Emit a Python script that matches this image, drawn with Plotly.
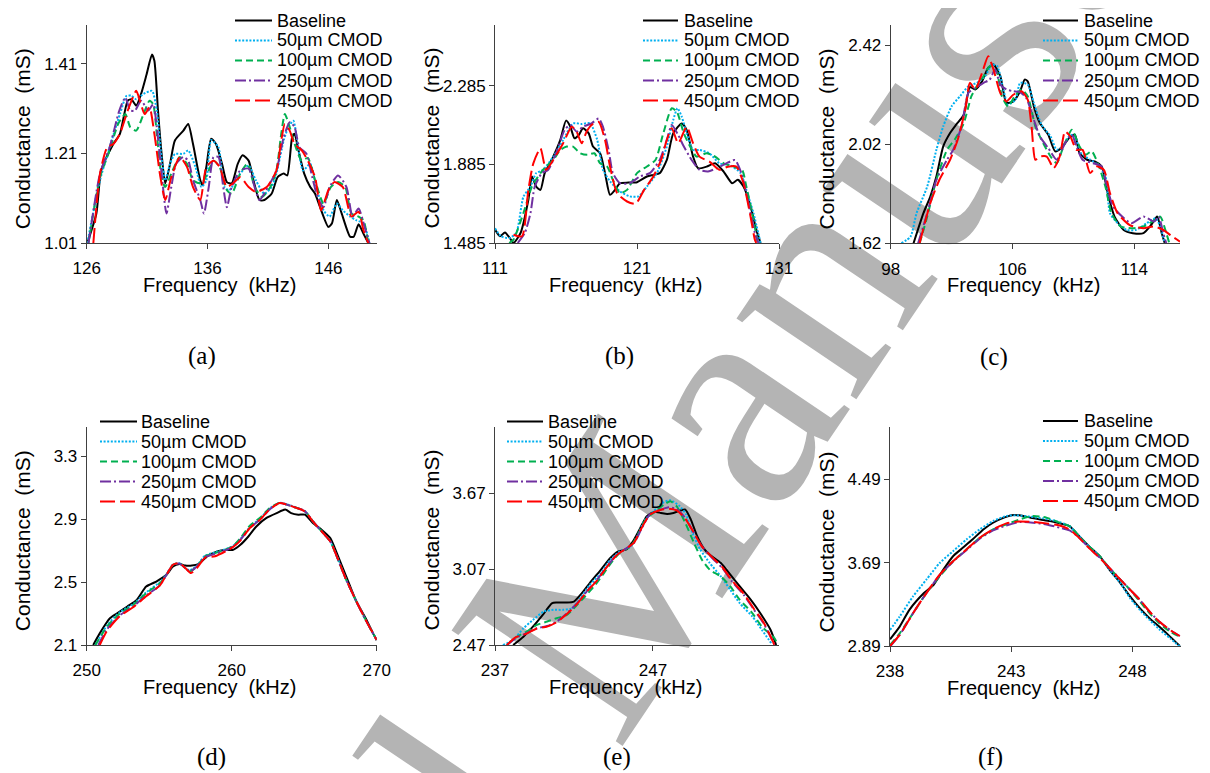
import plotly.graph_objects as go

# page body has an 8px margin: build the figure for the visible 1202x765 area
OFF = 8
W, H = 1210 - OFF, 773 - OFF

def PX(x):
    return (x - OFF) / W

def PY(y):
    return 1 - (y - OFF) / H

series_names = ["Baseline", "50µm CMOD", "100µm CMOD", "250µm CMOD", "450µm CMOD"]
series_colors = ["#000000", "#00b0f0", "#00b050", "#7030a0", "#ff0000"]
series_dash = ["solid", "2px,1.6px", "7px,4px", "11px,3px,2px,3px", "15px,5px"]

# ---------------- panel (a) ----------------
a_f0 = [126.05,126.8,127.2,128.2,128.75,129.4,129.7,130.1,130.5,130.96,131.4,131.6,131.9,132.2,132.5,132.9,133.3,134.0,134.4,134.8,135.4,135.6,135.9,136.3,136.7,137.2,137.6,138.0,138.5,138.9,139.4,139.8,140.3,140.7,141.3,141.8,142.3,142.6,143.0,143.2,143.5,144.0,144.5,144.9,145.3,146.0,146.3,146.7,147.1,147.8,148.1,148.5,148.9,149.3]
a_g0 = [1.01,1.076,1.172,1.231,1.254,1.328,1.331,1.317,1.343,1.387,1.431,1.417,1.306,1.209,1.143,1.187,1.239,1.261,1.276,1.231,1.15,1.139,1.18,1.243,1.231,1.187,1.146,1.143,1.187,1.206,1.194,1.15,1.106,1.106,1.12,1.157,1.165,1.161,1.246,1.254,1.22,1.165,1.135,1.12,1.091,1.046,1.054,1.106,1.076,1.024,1.024,1.052,1.031,1.01]
a_f1 = [126.05,127.1,127.9,128.75,129.3,129.7,130.1,130.7,131.4,131.8,132.2,132.5,132.9,133.3,134.0,134.4,135.0,135.5,135.9,136.3,136.9,137.4,137.8,138.7,139.4,140.0,140.7,141.3,141.7,142.3,142.7,143.1,143.5,143.9,144.5,145.0,145.6,146.1,146.7,147.2,147.8,148.3,148.9,149.4]
a_g1 = [1.01,1.15,1.224,1.298,1.339,1.339,1.331,1.343,1.35,1.306,1.2,1.15,1.187,1.209,1.209,1.217,1.18,1.135,1.15,1.24,1.224,1.135,1.128,1.165,1.183,1.15,1.12,1.135,1.165,1.239,1.269,1.283,1.224,1.172,1.187,1.135,1.083,1.069,1.098,1.083,1.069,1.061,1.054,1.01]
a_f2 = [126.15,127.1,127.9,128.6,129.2,129.6,130.1,130.7,131.2,131.5,131.8,132.2,132.5,133.0,133.7,134.3,134.8,135.5,136.1,136.5,137.0,137.6,138.0,138.7,139.3,139.9,140.5,141.2,141.7,142.1,142.4,142.8,143.2,143.8,144.3,144.9,145.6,146.2,146.8,147.4,147.9,148.5,148.9,149.3]
a_g2 = [1.01,1.157,1.217,1.276,1.298,1.269,1.261,1.298,1.328,1.32,1.254,1.157,1.135,1.165,1.202,1.187,1.15,1.143,1.172,1.194,1.18,1.128,1.12,1.165,1.187,1.135,1.113,1.135,1.172,1.254,1.298,1.269,1.232,1.194,1.2,1.15,1.098,1.135,1.146,1.135,1.076,1.069,1.061,1.01]
a_f3 = [126.15,127.1,127.9,128.7,129.2,129.6,130.0,130.5,131.1,131.5,131.8,132.2,132.6,133.0,133.4,134.0,134.4,134.8,135.4,135.7,136.1,136.5,136.9,137.3,137.6,138.0,138.7,139.4,139.9,140.3,141.0,141.7,142.3,142.8,143.2,143.6,144.2,144.6,145.1,145.6,146.1,146.8,147.5,148.0,148.5,149.0,149.4]
a_g3 = [1.01,1.165,1.224,1.306,1.335,1.306,1.306,1.328,1.306,1.32,1.269,1.165,1.076,1.135,1.187,1.202,1.194,1.15,1.106,1.076,1.135,1.202,1.202,1.135,1.09,1.135,1.172,1.176,1.135,1.106,1.135,1.172,1.246,1.28,1.269,1.224,1.209,1.165,1.113,1.09,1.135,1.161,1.135,1.069,1.087,1.046,1.01]
a_f4 = [126.55,127.1,127.7,128.2,128.75,129.4,130.1,130.4,130.8,131.2,131.6,132.1,132.5,133.0,133.7,134.3,134.8,135.4,135.9,136.5,137.0,137.6,138.1,138.7,139.4,140.0,140.9,141.7,142.1,142.4,142.8,143.2,143.8,144.3,144.9,145.4,146.0,146.5,147.2,147.9,148.5,148.9,149.3]
a_g4 = [1.01,1.165,1.224,1.231,1.254,1.306,1.35,1.328,1.298,1.313,1.254,1.157,1.106,1.157,1.202,1.18,1.135,1.106,1.18,1.194,1.18,1.135,1.143,1.157,1.135,1.124,1.135,1.172,1.239,1.276,1.261,1.231,1.217,1.194,1.157,1.083,1.128,1.146,1.135,1.069,1.08,1.039,1.01]

# ---------------- panel (b) ----------------
b_f0 = [111.0,111.35,111.7,112.05,112.3,112.8,113.35,113.6,113.9,114.2,114.5,115.1,115.6,116.0,116.3,116.6,116.9,117.2,117.6,117.9,118.4,118.75,119.1,119.45,119.8,120.4,121.0,121.7,122.15,122.6,123.1,123.55,124.15,124.5,124.95,125.3,125.9,126.5,127.1,127.7,128.1,128.5,129.0,129.4,129.7]
b_g0 = [1.553,1.519,1.539,1.51,1.485,1.536,1.705,1.823,1.772,1.755,1.84,1.924,2.009,2.107,2.077,2.017,2.034,2.068,2.042,1.975,1.941,1.84,1.73,1.755,1.789,1.792,1.794,1.823,1.831,1.84,1.907,2.042,2.093,2.059,1.924,1.865,1.873,1.89,1.848,1.789,1.806,1.772,1.671,1.553,1.485]
b_f1 = [111.0,111.4,112.0,112.5,113.0,113.5,113.9,114.4,115.1,115.8,116.5,117.1,117.7,118.2,118.6,119.1,119.8,120.5,121.1,121.7,122.4,123.1,123.55,123.85,124.15,124.5,124.95,125.4,126.1,126.8,127.5,128.3,128.7,129.2,129.7]
b_g1 = [1.56,1.52,1.51,1.536,1.72,1.772,1.84,1.857,1.924,2.009,2.093,2.09,2.093,2.009,1.857,1.799,1.747,1.722,1.722,1.772,1.84,1.975,2.11,2.17,2.127,2.042,1.958,1.958,1.941,1.89,1.882,1.84,1.755,1.637,1.485]
b_f2 = [112.0,112.3,113.0,113.6,114.2,114.6,115.1,115.6,116.05,116.5,117.0,117.5,118.0,118.4,118.9,119.3,119.8,120.3,121.0,121.7,122.3,122.85,123.45,123.8,124.3,124.75,125.2,125.9,126.5,127.1,127.8,128.4,128.7,129.2,129.5]
b_g2 = [1.485,1.502,1.637,1.772,1.84,1.874,1.907,1.958,1.975,1.975,1.941,1.933,1.941,1.89,1.873,1.806,1.738,1.755,1.84,1.874,1.907,2.042,2.17,2.153,2.042,1.975,1.924,1.941,1.924,1.89,1.873,1.857,1.772,1.603,1.485]
b_f3 = [112.6,113.1,113.5,113.8,114.3,114.75,115.3,115.9,116.3,116.75,117.2,117.8,118.3,118.6,119.0,119.3,119.8,120.5,121.2,121.9,122.6,123.1,123.45,123.9,124.3,124.85,125.4,126.0,126.6,127.3,127.9,128.35,128.8,129.3,129.55]
b_g3 = [1.485,1.536,1.637,1.772,1.84,1.857,1.941,2.059,2.085,2.051,2.076,2.093,2.118,2.076,1.958,1.84,1.789,1.789,1.823,1.84,1.907,2.009,2.085,2.034,1.975,1.907,1.857,1.848,1.865,1.89,1.907,1.84,1.705,1.536,1.485]
b_f4 = [112.3,112.9,113.35,113.7,114.2,114.6,115.1,115.8,116.4,116.75,117.1,117.45,117.8,118.3,118.75,119.1,119.6,120.3,120.9,121.5,122.15,122.7,123.1,123.45,123.9,124.5,124.95,125.4,126.1,126.8,127.4,128.0,128.5,128.95,129.3,129.4]
b_g4 = [1.527,1.519,1.755,1.89,1.966,1.857,1.907,1.992,2.076,2.051,1.992,2.051,2.085,2.101,2.009,1.874,1.738,1.696,1.684,1.755,1.823,1.907,2.009,2.068,1.992,2.076,1.992,1.924,1.899,1.857,1.873,1.873,1.789,1.637,1.502,1.485]

# ---------------- panel (c) ----------------
c_f0 = [99.5,100.15,100.6,101.0,101.45,101.9,102.3,102.8,103.2,103.55,104.0,104.4,104.75,105.2,105.6,106.05,106.5,106.8,107.0,107.4,107.8,108.35,108.8,109.2,109.8,110.1,110.4,110.9,111.4,111.85,112.3,112.7,113.3,113.9,114.6,115.1,115.5,115.8,116.0]
c_g0 = [1.62,1.742,1.809,1.89,2.012,2.066,2.1,2.14,2.252,2.242,2.275,2.329,2.343,2.296,2.188,2.194,2.235,2.282,2.275,2.174,2.106,2.059,1.992,2.005,2.052,2.059,1.985,1.958,1.951,1.931,1.809,1.728,1.674,1.661,1.661,1.694,1.728,1.661,1.62]
c_f1 = [98.7,99.3,99.7,100.4,101.0,101.45,102.0,102.55,103.1,103.65,104.2,104.65,105.0,105.4,105.7,106.2,106.5,107.0,107.4,107.9,108.5,108.9,109.3,109.8,110.1,110.5,111.1,111.6,112.1,112.4,112.8,113.5,114.1,114.8,115.4,115.7,116.0]
c_g1 = [1.62,1.647,1.742,1.85,1.998,2.093,2.174,2.215,2.255,2.269,2.296,2.343,2.336,2.242,2.181,2.201,2.269,2.262,2.188,2.1,2.052,1.998,2.012,2.059,2.052,1.985,1.958,1.938,1.89,1.742,1.708,1.674,1.674,1.701,1.721,1.688,1.62]
c_f2 = [99.9,100.4,101.0,101.7,102.2,102.8,103.3,103.65,104.1,104.5,104.95,105.3,105.7,106.15,106.6,107.0,107.5,107.9,108.5,108.9,109.35,109.9,110.4,110.8,111.2,111.6,112.1,112.5,113.1,113.9,114.6,115.2,115.7,116.1,116.3]
c_g2 = [1.62,1.728,1.877,1.998,2.039,2.106,2.215,2.255,2.296,2.336,2.316,2.215,2.174,2.215,2.242,2.215,2.093,2.039,1.971,1.944,2.012,2.079,2.012,1.978,1.992,1.944,1.85,1.742,1.688,1.681,1.688,1.708,1.728,1.661,1.62]
c_f3 = [99.8,100.4,101.0,101.7,102.1,102.65,103.1,103.55,104.1,104.5,104.85,105.2,105.6,106.05,106.5,106.9,107.4,107.8,108.35,108.9,109.45,109.9,110.2,110.6,111.3,111.85,112.2,112.6,113.2,113.8,114.6,115.3,115.6,115.9,116.1]
c_g3 = [1.62,1.742,1.877,1.958,1.998,2.093,2.228,2.248,2.269,2.282,2.323,2.262,2.242,2.235,2.231,2.208,2.12,2.052,2.005,1.958,2.025,2.059,2.012,1.958,1.944,1.931,1.85,1.769,1.728,1.701,1.728,1.708,1.728,1.661,1.62]
c_f4 = [99.9,100.6,101.2,101.9,102.4,102.9,103.2,103.55,104.0,104.4,104.75,105.2,105.6,106.05,106.6,107.0,107.25,107.5,107.8,108.25,108.7,109.1,109.45,109.8,110.2,110.6,111.1,111.5,112.0,112.4,112.9,113.7,114.6,115.3,115.9,116.5,117.0]
c_g4 = [1.62,1.782,1.877,1.958,2.039,2.161,2.269,2.242,2.309,2.377,2.323,2.228,2.194,2.221,2.235,2.201,2.093,1.958,1.971,1.971,1.924,1.971,2.073,2.052,1.998,1.998,1.904,1.931,1.917,1.823,1.742,1.694,1.681,1.688,1.674,1.647,1.627]

# ---------------- panel (d) ----------------
d_f0 = [250.45,250.9,251.6,252.1,252.8,253.45,254.1,254.8,255.5,255.95,256.4,256.8,257.25,257.7,258.3,259.0,259.65,260.1,260.6,261.15,261.7,262.4,263.1,263.7,264.1,264.6,265.05,265.6,266.2,266.8,267.25,267.9,268.6,269.3,269.75,270.0]
d_g0 = [2.1,2.174,2.27,2.302,2.345,2.387,2.472,2.504,2.547,2.6,2.615,2.606,2.606,2.615,2.664,2.696,2.706,2.706,2.738,2.791,2.855,2.909,2.94,2.962,2.94,2.93,2.93,2.877,2.834,2.781,2.685,2.536,2.377,2.26,2.174,2.132]
d_f1 = [250.6,251.4,252.3,253.2,254.1,255.05,255.5,255.95,256.4,256.8,257.1,257.6,258.15,258.85,259.65,260.1,260.6,261.25,261.95,262.6,263.3,263.8,264.5,265.05,265.6,266.3,266.8,267.25,267.9,268.6,269.3,270.0]
d_g1 = [2.1,2.225,2.31,2.36,2.435,2.5,2.55,2.61,2.62,2.592,2.575,2.605,2.668,2.69,2.712,2.732,2.775,2.85,2.905,2.968,3.006,2.996,2.974,2.953,2.889,2.813,2.76,2.664,2.515,2.377,2.249,2.132]
d_f2 = [250.6,251.4,252.3,253.2,254.1,255.05,255.5,255.95,256.4,256.8,257.1,257.6,258.15,258.85,259.65,260.1,260.6,261.25,261.95,262.6,263.3,263.8,264.5,265.05,265.6,266.3,266.8,267.25,267.9,268.6,269.3,270.0]
d_g2 = [2.1,2.217,2.302,2.355,2.43,2.494,2.547,2.611,2.621,2.589,2.568,2.6,2.664,2.685,2.71,2.73,2.78,2.86,2.91,2.97,3.004,2.994,2.972,2.951,2.887,2.813,2.76,2.664,2.515,2.377,2.249,2.132]
d_f3 = [250.8,251.4,252.3,253.2,254.1,255.05,255.5,255.95,256.4,256.8,257.1,257.6,258.15,258.85,259.65,260.1,260.6,261.25,261.95,262.6,263.3,263.8,264.5,265.05,265.6,266.3,266.8,267.25,267.9,268.6,269.3,270.0]
d_g3 = [2.1,2.2,2.29,2.345,2.415,2.48,2.547,2.611,2.618,2.59,2.568,2.6,2.66,2.68,2.706,2.726,2.77,2.845,2.898,2.962,3.004,2.994,2.972,2.951,2.887,2.813,2.76,2.664,2.515,2.377,2.249,2.132]
d_f4 = [250.9,251.4,252.3,253.2,254.1,255.05,255.5,255.95,256.4,256.8,257.2,257.6,258.15,258.85,259.65,260.1,260.6,261.25,261.95,262.6,263.3,263.8,264.5,265.05,265.6,266.3,266.8,267.25,267.9,268.6,269.3,270.0]
d_g4 = [2.1,2.19,2.285,2.34,2.41,2.48,2.547,2.611,2.621,2.59,2.558,2.59,2.655,2.665,2.7,2.725,2.765,2.845,2.898,2.962,3.004,2.994,2.972,2.951,2.887,2.813,2.76,2.664,2.515,2.377,2.249,2.132]

# ---------------- panel (e) ----------------
e_f0 = [238.15,238.8,239.4,240.1,240.6,240.9,241.5,242.0,242.5,243.0,243.7,244.3,244.8,245.35,245.8,246.2,246.6,247.05,247.5,247.9,248.3,248.75,249.05,249.4,249.8,250.2,250.6,251.3,251.9,252.5,253.2,253.8,254.45,254.8]
e_g0 = [2.47,2.536,2.615,2.721,2.8,2.806,2.806,2.814,2.88,2.96,3.065,3.158,3.21,3.229,3.303,3.396,3.488,3.523,3.515,3.507,3.515,3.534,3.541,3.462,3.33,3.237,3.184,3.118,3.026,2.933,2.827,2.721,2.589,2.47]
e_f1 = [237.5,238.15,238.8,239.4,240.1,240.7,241.3,241.9,242.4,243.0,243.7,244.3,244.9,245.6,246.0,246.5,247.05,247.6,248.1,248.7,249.1,249.5,250.0,250.6,251.3,251.9,252.5,253.3,253.9,254.5]
e_g1 = [2.47,2.51,2.602,2.668,2.735,2.748,2.748,2.761,2.84,2.946,3.039,3.145,3.21,3.25,3.33,3.462,3.528,3.594,3.615,3.568,3.502,3.356,3.224,3.118,3.012,2.906,2.8,2.695,2.589,2.483]
e_f2 = [237.75,238.4,239.0,239.65,240.3,240.9,241.55,242.1,242.7,243.35,243.9,244.5,245.0,245.6,246.1,246.6,247.05,247.7,248.1,248.5,249.05,249.6,250.1,250.6,251.3,251.9,252.5,253.3,253.9,254.7,254.9]
e_g2 = [2.47,2.536,2.576,2.629,2.655,2.682,2.708,2.774,2.854,2.946,3.039,3.145,3.21,3.25,3.356,3.475,3.515,3.581,3.607,3.568,3.436,3.277,3.145,3.065,3.012,2.933,2.827,2.721,2.615,2.523,2.47]
e_f3 = [237.75,238.3,239.0,239.65,240.3,240.9,241.55,242.2,242.8,243.45,244.1,244.7,245.25,245.8,246.3,246.8,247.5,248.0,248.5,249.05,249.6,250.1,250.75,251.4,252.0,252.75,253.4,254.0,254.7]
e_g3 = [2.47,2.523,2.563,2.602,2.62,2.655,2.721,2.8,2.893,2.986,3.092,3.184,3.229,3.277,3.396,3.502,3.541,3.56,3.545,3.475,3.356,3.25,3.158,3.078,2.973,2.867,2.748,2.642,2.47]
e_f4 = [237.75,238.3,239.0,239.65,240.3,240.9,241.55,242.2,242.8,243.45,244.1,244.7,245.25,245.8,246.3,246.8,247.5,248.0,248.5,249.05,249.6,250.1,250.75,251.4,252.0,252.75,253.4,254.0,254.7]
e_g4 = [2.47,2.53,2.56,2.6,2.615,2.65,2.715,2.795,2.89,2.98,3.09,3.18,3.229,3.28,3.4,3.5,3.54,3.548,3.535,3.47,3.356,3.25,3.165,3.085,2.98,2.875,2.755,2.65,2.47]

# ---------------- panel (f) ----------------
f_f0 = [238.0,238.4,238.8,239.4,239.8,240.2,240.6,241.0,241.4,241.85,242.25,242.7,243.1,243.35,243.8,244.2,244.6,245.0,245.4,245.8,246.2,246.65,247.05,247.5,247.9,248.3,248.7,249.1,249.55,249.95]
f_g0 = [2.954,3.076,3.237,3.398,3.478,3.623,3.752,3.832,3.912,4.009,4.073,4.122,4.148,4.144,4.122,4.105,4.089,4.067,4.041,3.945,3.848,3.752,3.623,3.494,3.366,3.253,3.157,3.076,2.98,2.89]
f_f1 = [238.0,238.4,238.95,239.5,240.05,240.6,241.15,241.7,242.25,242.8,243.2,243.8,244.3,244.85,245.4,245.8,246.2,246.65,247.05,247.5,247.9,248.3,248.7,249.1,249.55,249.95]
f_g1 = [3.044,3.173,3.366,3.527,3.687,3.8,3.912,4.009,4.089,4.138,4.144,4.131,4.115,4.089,4.041,3.945,3.848,3.752,3.623,3.494,3.35,3.237,3.141,3.051,2.964,2.884]
f_f2 = [238.0,238.4,238.95,239.5,240.05,240.6,241.15,241.7,242.25,242.8,243.35,243.9,244.45,245.0,245.4,245.8,246.2,246.65,247.05,247.5,247.9,248.3,248.7,249.1,249.55,249.95]
f_g2 = [2.9,3.012,3.205,3.398,3.559,3.703,3.816,3.928,4.009,4.057,4.105,4.138,4.122,4.073,4.041,3.945,3.848,3.752,3.639,3.527,3.43,3.318,3.205,3.109,3.028,2.98]
f_f3 = [238.0,238.4,238.95,239.5,240.05,240.6,241.15,241.7,242.25,242.8,243.35,243.9,244.45,245.0,245.4,245.8,246.2,246.65,247.05,247.5,247.9,248.3,248.7,249.1,249.55,249.95]
f_g3 = [2.884,2.996,3.205,3.398,3.57,3.7,3.81,3.92,4.0,4.047,4.08,4.073,4.057,4.025,4.0,3.93,3.835,3.738,3.639,3.527,3.43,3.334,3.221,3.125,3.044,2.986]
f_f4 = [238.0,238.4,238.95,239.5,240.05,240.6,241.15,241.7,242.25,242.8,243.35,243.9,244.45,245.0,245.4,245.8,246.2,246.65,247.05,247.5,247.9,248.3,248.7,249.1,249.55,249.95]
f_g4 = [2.89,2.996,3.205,3.398,3.575,3.703,3.816,3.928,4.009,4.067,4.086,4.08,4.067,4.047,4.009,3.928,3.832,3.735,3.639,3.527,3.43,3.334,3.221,3.125,3.044,2.986]

panels = [
    dict(data=[(a_f0,a_g0),(a_f1,a_g1),(a_f2,a_g2),(a_f3,a_g3),(a_f4,a_g4)],
         xr=[126,150], yr=[1.01,1.497], xt=[126,136,146], yt=[1.01,1.21,1.41], ytt=["1.01","1.21","1.41"],
         px=(86.7,376.7), py=(25,243), leg=(235,272,275,20.5), cap="(a)", cappos=(202,356)),
    dict(data=[(b_f0,b_g0),(b_f1,b_g1),(b_f2,b_g2),(b_f3,b_g3),(b_f4,b_g4)],
         xr=[111,131], yr=[1.485,2.593], xt=[111,121,131], yt=[1.485,1.885,2.285], ytt=["1.485","1.885","2.285"],
         px=(495,779), py=(25,243), leg=(643,678,682,20.5), cap="(b)", cappos=(619,356)),
    dict(data=[(c_f0,c_g0),(c_f1,c_g1),(c_f2,c_g2),(c_f3,c_g3),(c_f4,c_g4)],
         xr=[98,117], yr=[1.62,2.503], xt=[98,106,114], yt=[1.62,2.02,2.42], ytt=["1.62","2.02","2.42"],
         px=(890.7,1180), py=(25,243.3), leg=(1043,1078,1082,20.5), cap="(c)", cappos=(994,357)),
    dict(data=[(d_f0,d_g0),(d_f1,d_g1),(d_f2,d_g2),(d_f3,d_g3),(d_f4,d_g4)],
         xr=[250,270], yr=[2.1,3.49], xt=[250,260,270], yt=[2.1,2.5,2.9,3.3], ytt=["2.1","2.5","2.9","3.3"],
         px=(86.7,376.7), py=(426.7,645), leg=(100,137,139,421.5), cap="(d)", cappos=(211,757)),
    dict(data=[(e_f0,e_g0),(e_f1,e_g1),(e_f2,e_g2),(e_f3,e_g3),(e_f4,e_g4)],
         xr=[237,255], yr=[2.47,4.197], xt=[237,247], yt=[2.47,3.07,3.67], ytt=["2.47","3.07","3.67"],
         px=(495,779.3), py=(426.7,645), leg=(507,543,546,421.5), cap="(e)", cappos=(617,757)),
    dict(data=[(f_f0,f_g0),(f_f1,f_g1),(f_f2,f_g2),(f_f3,f_g3),(f_f4,f_g4)],
         xr=[238,250], yr=[2.89,4.995], xt=[238,243,248], yt=[2.89,3.69,4.49], ytt=["2.89","3.69","4.49"],
         px=(890,1181), py=(426.7,646), leg=(1043,1078,1082,421.0), cap="(f)", cappos=(990,757)),
]

x_title = "Frequency\u00a0 (kHz)"
y_title = "Conductance\u00a0 (mS)"

fig = go.Figure()
layout = dict(width=W, height=H, margin=dict(l=0, r=0, t=0, b=0, pad=0, autoexpand=False),
              paper_bgcolor="white", plot_bgcolor="rgba(0,0,0,0)", showlegend=False)
shapes, annotations = [], []

AX = "#404040"
FONT = "Liberation Sans, Arial, sans-serif"

# watermark (drawn below everything, as a shape label)
wm_cx, wm_cy = 548, 606
shapes.append(dict(type="rect", xref="paper", yref="paper", layer="below",
                   x0=PX(wm_cx-1), x1=PX(wm_cx+1), y0=PY(wm_cy+1), y1=PY(wm_cy-1),
                   line=dict(width=0), fillcolor="rgba(0,0,0,0)",
                   label=dict(text="Accepted Manuscript", textangle=-56, textposition="middle center",
                              font=dict(family="Liberation Serif, Times New Roman, serif", size=315, color="#b4b4b4"))))

for i, p in enumerate(panels):
    n = "" if i == 0 else str(i+1)
    xa, ya = "xaxis"+n, "yaxis"+n
    xd = [PX(p["px"][0]), PX(p["px"][1])]
    yd = [PY(p["py"][1]), PY(p["py"][0])]
    layout[xa] = dict(domain=xd, range=p["xr"], anchor="y"+n, tickmode="array", tickvals=p["xt"],
                      ticktext=[str(v) for v in p["xt"]], showgrid=False, zeroline=False, automargin=False,
                      showline=True, linecolor=AX, linewidth=1, ticks="outside", ticklen=5,
                      tickcolor=AX, tickwidth=1, ticklabelstandoff=5,
                      tickfont=dict(family=FONT, size=17, color="black"))
    layout[ya] = dict(domain=yd, range=p["yr"], anchor="x"+n, tickmode="array", tickvals=p["yt"],
                      ticktext=p["ytt"], showgrid=False, zeroline=False, automargin=False,
                      showline=True, linecolor=AX, linewidth=1, ticks="outside", ticklen=5,
                      tickcolor=AX, tickwidth=1, ticklabelstandoff=0,
                      tickfont=dict(family=FONT, size=17, color="black"))
    for k, (fx, gy) in enumerate(p["data"]):
        fig.add_trace(go.Scatter(x=fx, y=gy, mode="lines", name=series_names[k],
                                 xaxis="x"+n, yaxis="y"+n,
                                 line=dict(color=series_colors[k], width=2, dash=series_dash[k],
                                           shape="spline", smoothing=0.6)))
    # legend drawn as shapes + text
    lx0, lx1, tx, ly = p["leg"]
    for k in range(5):
        yy = ly + 20*k
        shapes.append(dict(type="line", xref="paper", yref="paper",
                           x0=PX(lx0), x1=PX(lx1), y0=PY(yy), y1=PY(yy),
                           line=dict(color=series_colors[k], width=2, dash=series_dash[k])))
        annotations.append(dict(xref="paper", yref="paper", x=PX(tx), y=PY(yy), xanchor="left",
                                yanchor="middle", text=series_names[k], showarrow=False,
                                font=dict(family=FONT, size=18, color="black")))
    # axis titles
    xc = (p["px"][0]+p["px"][1])/2 - 12
    annotations.append(dict(xref="paper", yref="paper", x=PX(xc), y=PY(p["py"][1]+42),
                            xanchor="center", yanchor="middle", text=x_title, showarrow=False,
                            font=dict(family=FONT, size=20, color="black")))
    annotations.append(dict(xref="paper", yref="paper", x=PX(p["px"][0]-64), y=PY(p["py"][1]-12),
                            xanchor="center", yanchor="bottom", text=y_title, showarrow=False,
                            textangle=-90, font=dict(family=FONT, size=21, color="black")))
    # caption
    annotations.append(dict(xref="paper", yref="paper", x=PX(p["cappos"][0]), y=PY(p["cappos"][1]),
                            xanchor="center", yanchor="middle", text=p["cap"], showarrow=False,
                            font=dict(family="Liberation Serif, Times New Roman, serif", size=25, color="black")))

layout["shapes"] = shapes
layout["annotations"] = annotations
fig.update_layout(**layout)
fig.write_html("out.html")
